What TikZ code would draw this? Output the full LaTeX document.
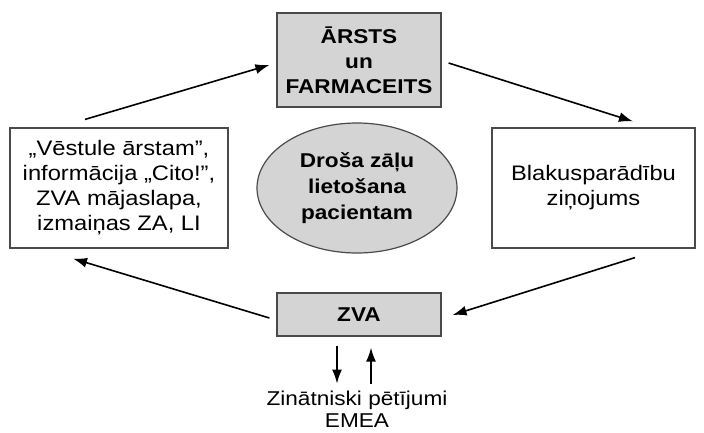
\documentclass[tikz,border=0pt]{standalone}
\usepackage{fontspec}
\setmainfont[FakeStretch=1.13]{Liberation Sans}
\usetikzlibrary{arrows.meta,calc,shapes.geometric}
\definecolor{boxgray}{HTML}{D4D4D4}
\definecolor{edgegray}{HTML}{4A4A4A}
\begin{document}
\begin{tikzpicture}[x=1pt,y=-1pt,
  txt/.style={font=\fontsize{21}{25}\selectfont, align=center, inner sep=0pt},
  whitebox/.style={txt, draw=edgegray, line width=1.2pt, rectangle},
  graybox/.style={txt, draw=edgegray, fill=boxgray, line width=1.2pt, rectangle, font=\fontsize{20}{25}\selectfont\bfseries},
  arr/.style={line width=1.6pt, -{Latex[length=14pt,width=10pt]}}]
\useasboundingbox (0,0) rectangle (704,432);
\node[graybox, minimum width=164pt, minimum height=94pt] (arsts) at (359,60) {ĀRSTS\\un\\FARMACEITS};
\node[whitebox, minimum width=218pt, minimum height=120pt] (info) at (119,188) {„Vēstule ārstam”,\\informācija „Cito!”,\\ZVA mājaslapa,\\izmaiņas ZA, LI};
\node[whitebox, minimum width=203pt, minimum height=120pt] (blak) at (593.5,188) {Blakusparādību\\ziņojums};
\node[ellipse, draw=edgegray, fill=boxgray, line width=1.2pt, minimum width=200pt, minimum height=130pt, inner sep=0pt, align=center, font=\fontsize{20}{26}\selectfont\bfseries] (drosa) at (357,188) {Droša zāļu\\lietošana\\pacientam};
\node[graybox, minimum width=164pt, minimum height=43pt] (zva) at (359,314.5) {ZVA};
\node[txt, font=\fontsize{20}{22}\selectfont] (zin) at (357,409) {Zinātniski pētījumi\\EMEA};
\draw[arr] ($(info.north)+(-34,-8)$) -- ($(arsts.west)+(-7,5)$);
\draw[arr] ($(arsts.east)+(7,3)$) -- ($(blak.north)+(39.5,-6)$);
\draw[arr] ($(blak.south)+(41.5,9)$) -- ($(zva.east)+(11,0.5)$);
\draw[arr] ($(zva.west)+(-7,3.5)$) -- ($(info.south)+(-46,10)$);
\draw[arr] ($(zva.south)+(-22,9)$) -- ($(zva.south)+(-22,47)$);
\draw[arr] ($(zva.south)+(12,47)$) -- ($(zva.south)+(12,11)$);
\end{tikzpicture}
\end{document}
